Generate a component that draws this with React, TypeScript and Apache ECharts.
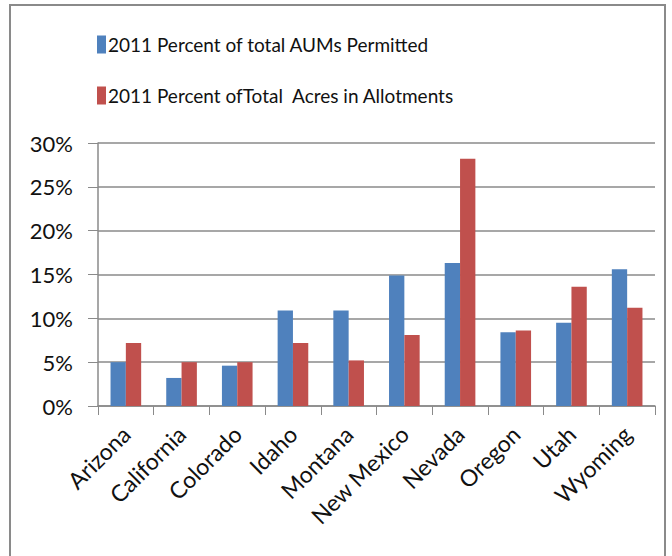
import React, { useEffect, useRef } from "react";
import * as echarts from "echarts";

const states = [
  "Arizona",
  "California",
  "Colorado",
  "Idaho",
  "Montana",
  "New Mexico",
  "Nevada",
  "Oregon",
  "Utah",
  "Wyoming",
];

// Share of total AUMs permitted, 2011 (%)
const aumsPermitted = [5.0, 3.2, 4.6, 10.9, 10.9, 14.9, 16.3, 8.4, 9.5, 15.6];

// Share of total acres in allotments, 2011 (%)
const acresInAllotments = [7.2, 5.0, 5.0, 7.2, 5.2, 8.1, 28.2, 8.6, 13.6, 11.2];

const seriesNames = [
  "2011 Percent of total AUMs Permitted",
  "2011 Percent ofTotal  Acres in Allotments",
];

const FONT = "Lato, 'Open Sans', sans-serif";

export default function App() {
  const ref = useRef<HTMLDivElement>(null);

  useEffect(() => {
    document.body.style.margin = "0";
    if (!ref.current) return;
    const chart = echarts.init(ref.current, null, { renderer: "svg" });
    chart.setOption({
      animation: false,
      backgroundColor: "#ffffff",
      textStyle: { fontFamily: FONT },
      graphic: [
        {
          type: "rect",
          shape: { x: 10, y: 5, width: 655, height: 600 },
          style: { fill: "none", stroke: "#8a8a8a", lineWidth: 2 },
          silent: true,
          z: -1,
        },
      ],
      legend: {
        orient: "vertical",
        left: 92,
        top: 30,
        itemWidth: 9,
        itemHeight: 18,
        itemGap: 32,
        icon: "rect",
        textStyle: { fontFamily: FONT, fontSize: 19, color: "#111", padding: [0, 0, 0, -3] },
        data: seriesNames,
      },
      grid: { left: 98, right: 17, top: 143, bottom: 150 },
      xAxis: {
        type: "category",
        data: states,
        axisLine: { lineStyle: { color: "#8a8a8a", width: 1.5 } },
        axisTick: { show: true, length: 9, lineStyle: { color: "#8a8a8a" } },
        axisLabel: {
          rotate: 45,
          interval: 0,
          margin: 24,
          fontSize: 23,
          fontFamily: FONT,
          color: "#111",
        },
      },
      yAxis: {
        type: "value",
        min: 0,
        max: 30,
        interval: 5,
        axisLine: { show: true, lineStyle: { color: "#8a8a8a", width: 1.5 } },
        axisTick: { show: true, length: 10, lineStyle: { color: "#8a8a8a" } },
        splitLine: { lineStyle: { color: "#8a8a8a", width: 1.5 } },
        axisLabel: {
          formatter: "{value}%",
          margin: 25,
          fontSize: 22,
          fontFamily: FONT,
          color: "#111",
        },
      },
      series: [
        {
          name: seriesNames[0],
          type: "bar",
          data: aumsPermitted,
          itemStyle: { color: "#4F81BD" },
          barGap: "0%",
          barCategoryGap: "45%",
        },
        {
          name: seriesNames[1],
          type: "bar",
          data: acresInAllotments,
          itemStyle: { color: "#C0504D" },
          barGap: "0%",
          barCategoryGap: "45%",
        },
      ],
    });
    return () => chart.dispose();
  }, []);

  return <div ref={ref} style={{ width: 672, height: 556 }} />;
}
